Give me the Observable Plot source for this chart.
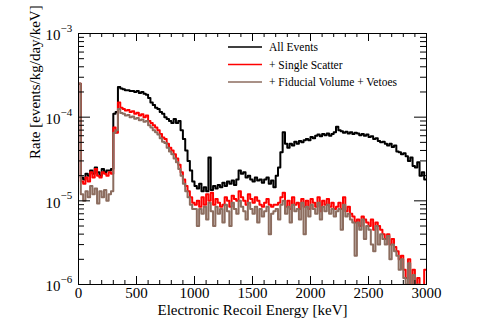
<!DOCTYPE html>
<html><head><meta charset="utf-8">
<script src="https://cdn.jsdelivr.net/npm/d3@7"></script>
<script src="https://cdn.jsdelivr.net/npm/@observablehq/plot@0.6"></script>
<style>body{margin:0;background:#fff} #chart{position:relative;width:491px;height:334px}</style>
</head><body><div id="chart"></div>
<script>
// Bin width in keV; rates below are in units of 1e-5 events/kg/day/keV
const binWidth = 20;
const unit = 1e-5;
const seriesNames = ["All Events", "+ Single Scatter", "+ Fiducial Volume + Vetoes"];

const allEvents = [
  25,
  1.9,1.8,2.1,2.0,2.3,2.1,2.5,2.2,2.0,2.4,2.2,2.3,2.3,2.4,
  11,11.5,23,
  22,21.5,21,21,20.5,20.5,20,20.5,19.5,20,19,18.5,
  17,15,14,13,12.5,11.5,11,10,9.5,9,8.5,9.5,8.5,9,7,5.5,4,3,2.3,1.7,
  1.5,1.4,1.6,1.3,1.45, 1.3,3.3,1.35,1.5,1.4, 1.55,1.45,1.65,1.5,1.7, 1.6,1.75,1.55,1.8,2.3,
  2.1,2.2,1.9,2.0,1.8, 1.7,1.9,1.75,1.8,1.65, 1.8,1.9,1.6,1.75,1.45,
  2.0,2.5,3.8,6.6,4.8,4.3,4.8,4.6,5.1,4.8,5.2,5.0,5.3,5.5,5.3,5.8,5.6,6.0,6.2,5.9,6.3,6.1,6.4,6.0,6.3,6.6,
  7.7,7.0,6.8,6.5,6.7,6.4,6.6,6.3,6.5,6.4,6.1,6.3,6.0,6.2,5.8,5.9,5.5,5.6,5.2,5.0,
  5.1,4.8,4.6,4.8,4.4,4.6,3.9,3.8,3.6,3.7,3.4,3.0,3.3,2.6,2.5,2.9,2.0,2.2,1.8
];
const singleScatter = [
  25,
  1.7,1.6,1.9,1.7,2.2,1.9,2.4,2.0,1.9,2.2,2.1,2.0,2.2,2.1,
  7.5,6.5,15,
  13,12.5,12,12.2,11.5,11.8,11,11.3,10.5,10.8,10,10.5,
  9,8.5,8,7.5,7,6.3,5.7,5.5,4.8,4.3,4.0,3.6,3.2,2.7,2.2,1.8,1.5,1.3,1.1,0.95,
  0.9,1.0,0.85,1.1,0.9,1.2,1.0,1.25,0.9,1.05,0.95,0.85,0.9,1.1,1.0,0.85,1.15,1.05,1.0,1.3,
  1.1,1.0,0.9,1.2,1.05,0.95,1.1,1.0,0.9,0.85,0.95,1.05,0.9,0.85,0.9,
  0.9,0.95,1.1,1.25,0.85,1.0,0.8,1.1,0.9,0.95,0.8,1.05,0.85,1.0,0.8,1.05,0.95,0.85,1.1,0.75,1.0,0.9,1.05,0.85,0.95,0.8,
  0.85,0.95,0.8,1.1,0.75,0.85,0.7,0.65,0.55,0.6,0.5,0.65,0.6,0.55,0.5,0.6,0.45,0.55,0.5,0.45,
  0.4,0.35,0.4,0.3,0.35,0.28,0.25,0.2,0.22,0.15,
  0.12,0.2,0.09,0.15,0.09,0.12,0.09,0.09,0.15
];
const fiducialVetoes = [
  25,
  1.2,1.0,1.3,1.1,1.5,1.2,1.4,0.93,1.3,1.1,1.35,1.0,1.2,1.3,
  6.5,7,12.5,
  11.2,11,10.5,10.6,10,10.2,9.6,9.8,9.2,9.4,8.8,9.0,
  8,7.5,7.0,6.6,6.2,5.6,5.1,4.9,4.3,3.9,3.6,3.2,2.9,2.4,2.0,1.6,1.3,1.1,0.9,0.8,
  0.8,0.5,0.8,0.7,0.85,0.6,0.95,0.75,0.5,0.85,0.7,0.8,0.55,0.9,0.75,0.5,0.95,0.8,0.7,1.0,
  0.85,0.75,0.6,0.95,0.8,0.7,0.85,0.55,0.8,0.65,0.75,0.85,0.4,0.7,0.75,
  0.8,0.6,0.9,1.0,0.7,0.85,0.55,0.9,0.75,0.8,0.6,0.95,0.4,0.85,0.65,0.9,0.8,0.7,0.95,0.6,0.85,0.75,0.9,0.7,0.8,0.65,
  0.75,0.8,0.45,0.9,0.65,0.7,0.6,0.55,0.22,0.55,0.45,0.6,0.35,0.5,0.45,0.3,0.25,0.5,0.3,0.4,
  0.35,0.3,0.38,0.2,0.3,0.25,0.22,0.15,0.2,0.12,
  0.1,0.18,0.09,0.13,0.09,0.1,0.09,0.09,0.09
];

const xTickLabels = [0, 500, 1000, 1500, 2000, 2500, 3000];
const xMinorStep = 100;
const yExponents = [-6, -5, -4, -3];

const colors = ["#000000", "#ff0000", "#8c6d5f"];
const allSeries = [allEvents, singleScatter, fiducialVetoes];

function toRows(vals, name) {
  const rows = vals.map((v, i) => ({E: i * binWidth, rate: v * unit, series: name}));
  rows.push({E: vals.length * binWidth, rate: vals[vals.length - 1] * unit, series: name});
  return rows;
}

const W = 491, H = 334, mL = 78, mR = 65, mT = 33, mB = 50;
const fw = W - mL - mR, fh = H - mT - mB;
const xMinor = d3.range(0, 3001, xMinorStep);
const yMajor = yExponents.map(e => Math.pow(10, e));
const yMinor = [];
for (const e of yExponents.slice(0, -1)) for (let k = 2; k <= 9; k++) yMinor.push(k * Math.pow(10, e));
const font = "'Liberation Serif', 'Times New Roman', serif";

const lineMarks = allSeries.map((vals, i) =>
  Plot.line(toRows(vals, seriesNames[i]), {x: "E", y: "rate", curve: "step-after", stroke: colors[i], strokeWidth: 2, clip: true})
);

const plot = Plot.plot({
  width: W, height: H, marginLeft: mL, marginRight: mR, marginTop: mT, marginBottom: mB,
  style: {fontFamily: font, background: "#fff"},
  x: {domain: [0, 3000], axis: null},
  y: {type: "log", domain: [1e-6, 1e-3], axis: null},
  marks: [
    ...lineMarks,
    Plot.tickX(xMinor, {x: d => d, insetTop: fh - 4, stroke: "black"}),
    Plot.tickX(xMinor, {x: d => d, insetBottom: fh - 4, stroke: "black"}),
    Plot.tickX(xTickLabels, {x: d => d, insetTop: fh - 8, stroke: "black"}),
    Plot.tickX(xTickLabels, {x: d => d, insetBottom: fh - 8, stroke: "black"}),
    Plot.tickY(yMinor, {y: d => d, insetRight: fw - 6, stroke: "black"}),
    Plot.tickY(yMinor, {y: d => d, insetLeft: fw - 6, stroke: "black"}),
    Plot.tickY(yMajor, {y: d => d, insetRight: fw - 12, stroke: "black"}),
    Plot.tickY(yMajor, {y: d => d, insetLeft: fw - 12, stroke: "black"}),
    Plot.frame({stroke: "black"}),
    Plot.text(xTickLabels, {x: d => d, frameAnchor: "bottom", dy: 13, text: d => String(d), fontSize: 15, fill: "black"}),
    Plot.text(yMajor, {y: d => d, frameAnchor: "left", dx: -18, dy: 2, textAnchor: "end", text: () => "10", fontSize: 15, fill: "black"}),
    Plot.text(yExponents, {y: d => Math.pow(10, d), frameAnchor: "left", dx: -18, dy: -5, textAnchor: "start", text: d => "\u2212" + Math.abs(d), fontSize: 11, fill: "black"}),
    Plot.text(["Electronic Recoil Energy [keV]"], {frameAnchor: "bottom", dy: 30, fontSize: 15, fill: "black"}),
    Plot.text(["Rate [events/kg/day/keV]"], {frameAnchor: "left", dx: -43, rotate: -90, fontSize: 15, fill: "black"})
  ]
});

// Legend drawn inside the frame (ROOT TLegend style, no border)
const svg = d3.select(plot);
const leg = svg.append("g").attr("font-family", font).attr("font-size", 11.5).attr("text-anchor", "start");
seriesNames.forEach((name, i) => {
  const y = 47 + i * 17.5;
  leg.append("line").attr("x1", 228).attr("x2", 262).attr("y1", y).attr("y2", y)
    .attr("stroke", colors[i]).attr("stroke-width", 1.5);
  leg.append("text").attr("x", 269).attr("y", y).attr("dy", "0.35em").attr("fill", "black").text(name);
});

document.getElementById("chart").appendChild(plot);
</script>
</body></html>
